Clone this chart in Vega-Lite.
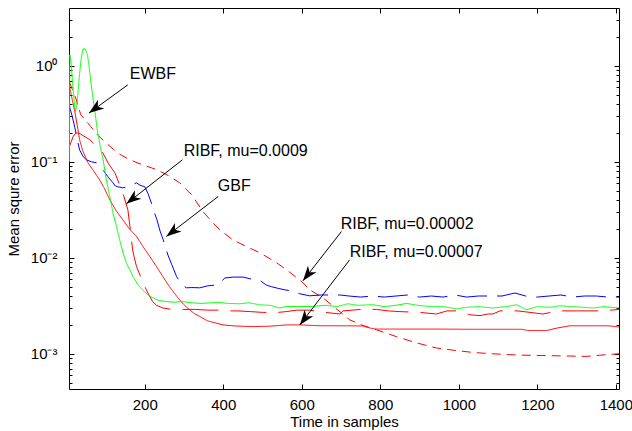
{
  "$schema": "https://vega.github.io/schema/vega-lite/v6.json",
  "width": 550,
  "height": 381,
  "autosize": {"type": "none"},
  "padding": {"left": 69, "top": 8, "right": 13, "bottom": 42},
  "background": "white",
  "config": {
    "view": {"stroke": "black", "strokeWidth": 1},
    "axis": {"domain": false, "grid": false, "labelFont": "Liberation Sans", "titleFont": "Liberation Sans", "labelColor": "black", "titleColor": "black", "tickColor": "black", "titleFontWeight": "normal", "labelFontSize": 15, "titleFontSize": 15, "tickWidth": 1}
  },
  "datasets": {
    "curves": [
      {"s":"RIBF, mu=0.00002","x":8,"y":0.68},{"s":"RIBF, mu=0.00002","x":16,"y":0.562},{"s":"RIBF, mu=0.00002","x":25,"y":0.45},{"s":"RIBF, mu=0.00002","x":37,"y":0.309},{"s":"RIBF, mu=0.00002","x":50,"y":0.27},{"s":"RIBF, mu=0.00002","x":62,"y":0.233},{"s":"RIBF, mu=0.00002","x":80,"y":0.19},{"s":"RIBF, mu=0.00002","x":101,"y":0.158},{"s":"RIBF, mu=0.00002","x":120,"y":0.135},{"s":"RIBF, mu=0.00002","x":139,"y":0.118},{"s":"RIBF, mu=0.00002","x":160,"y":0.106},{"s":"RIBF, mu=0.00002","x":181,"y":0.0977},{"s":"RIBF, mu=0.00002","x":205,"y":0.09},{"s":"RIBF, mu=0.00002","x":231,"y":0.0826},{"s":"RIBF, mu=0.00002","x":260,"y":0.072},{"s":"RIBF, mu=0.00002","x":289,"y":0.0604},{"s":"RIBF, mu=0.00002","x":320,"y":0.045},{"s":"RIBF, mu=0.00002","x":348,"y":0.0304},{"s":"RIBF, mu=0.00002","x":370,"y":0.024},{"s":"RIBF, mu=0.00002","x":391,"y":0.0196},{"s":"RIBF, mu=0.00002","x":424,"y":0.0154},{"s":"RIBF, mu=0.00002","x":459,"y":0.0131},{"s":"RIBF, mu=0.00002","x":493,"y":0.0113},{"s":"RIBF, mu=0.00002","x":536,"y":0.00887},{"s":"RIBF, mu=0.00002","x":565,"y":0.0073},{"s":"RIBF, mu=0.00002","x":587,"y":0.0062},{"s":"RIBF, mu=0.00002","x":603,"y":0.0055},{"s":"RIBF, mu=0.00002","x":620,"y":0.00464},{"s":"RIBF, mu=0.00002","x":654,"y":0.00383},{"s":"RIBF, mu=0.00002","x":690,"y":0.0029},{"s":"RIBF, mu=0.00002","x":722,"y":0.00226},{"s":"RIBF, mu=0.00002","x":755,"y":0.00198},{"s":"RIBF, mu=0.00002","x":790,"y":0.00178},{"s":"RIBF, mu=0.00002","x":841,"y":0.00151},{"s":"RIBF, mu=0.00002","x":892,"y":0.0013},{"s":"RIBF, mu=0.00002","x":943,"y":0.00115},{"s":"RIBF, mu=0.00002","x":994,"y":0.00108},{"s":"RIBF, mu=0.00002","x":1040,"y":0.00103},{"s":"RIBF, mu=0.00002","x":1087,"y":0.001},{"s":"RIBF, mu=0.00002","x":1150,"y":0.00097},{"s":"RIBF, mu=0.00002","x":1214,"y":0.00096},{"s":"RIBF, mu=0.00002","x":1270,"y":0.00095},{"s":"RIBF, mu=0.00002","x":1325,"y":0.00094},{"s":"RIBF, mu=0.00002","x":1376,"y":0.00098},{"s":"RIBF, mu=0.00002","x":1408,"y":0.001},

      {"s":"RIBF, mu=0.0009","x":8,"y":0.144},{"s":"RIBF, mu=0.0009","x":12,"y":0.16},{"s":"RIBF, mu=0.0009","x":18,"y":0.185},{"s":"RIBF, mu=0.0009","x":24,"y":0.198},{"s":"RIBF, mu=0.0009","x":29,"y":0.2},{"s":"RIBF, mu=0.0009","x":36,"y":0.195},{"s":"RIBF, mu=0.0009","x":45,"y":0.185},{"s":"RIBF, mu=0.0009","x":60,"y":0.17},{"s":"RIBF, mu=0.0009","x":75,"y":0.148},{"s":"RIBF, mu=0.0009","x":93,"y":0.124},{"s":"RIBF, mu=0.0009","x":108,"y":0.095},{"s":"RIBF, mu=0.0009","x":124,"y":0.0768},{"s":"RIBF, mu=0.0009","x":134,"y":0.06},{"s":"RIBF, mu=0.0009","x":144,"y":0.0475},{"s":"RIBF, mu=0.0009","x":157,"y":0.0316},{"s":"RIBF, mu=0.0009","x":163,"y":0.02},{"s":"RIBF, mu=0.0009","x":169,"y":0.0121},{"s":"RIBF, mu=0.0009","x":174,"y":0.0098},{"s":"RIBF, mu=0.0009","x":179,"y":0.0081},{"s":"RIBF, mu=0.0009","x":192,"y":0.006},{"s":"RIBF, mu=0.0009","x":204,"y":0.00464},{"s":"RIBF, mu=0.0009","x":212,"y":0.004},{"s":"RIBF, mu=0.0009","x":220,"y":0.0035},{"s":"RIBF, mu=0.0009","x":230,"y":0.0032},{"s":"RIBF, mu=0.0009","x":246,"y":0.003},{"s":"RIBF, mu=0.0009","x":270,"y":0.0029},{"s":"RIBF, mu=0.0009","x":300,"y":0.0029},{"s":"RIBF, mu=0.0009","x":330,"y":0.0029},{"s":"RIBF, mu=0.0009","x":360,"y":0.00285},{"s":"RIBF, mu=0.0009","x":395,"y":0.00285},{"s":"RIBF, mu=0.0009","x":420,"y":0.0028},{"s":"RIBF, mu=0.0009","x":437,"y":0.0028},{"s":"RIBF, mu=0.0009","x":470,"y":0.00275},{"s":"RIBF, mu=0.0009","x":500,"y":0.0027},{"s":"RIBF, mu=0.0009","x":539,"y":0.0027},{"s":"RIBF, mu=0.0009","x":560,"y":0.00275},{"s":"RIBF, mu=0.0009","x":587,"y":0.00285},{"s":"RIBF, mu=0.0009","x":620,"y":0.00285},{"s":"RIBF, mu=0.0009","x":660,"y":0.0027},{"s":"RIBF, mu=0.0009","x":697,"y":0.0026},{"s":"RIBF, mu=0.0009","x":705,"y":0.0028},{"s":"RIBF, mu=0.0009","x":750,"y":0.0029},{"s":"RIBF, mu=0.0009","x":790,"y":0.0029},{"s":"RIBF, mu=0.0009","x":820,"y":0.0028},{"s":"RIBF, mu=0.0009","x":850,"y":0.00275},{"s":"RIBF, mu=0.0009","x":900,"y":0.0027},{"s":"RIBF, mu=0.0009","x":943,"y":0.0026},{"s":"RIBF, mu=0.0009","x":970,"y":0.0028},{"s":"RIBF, mu=0.0009","x":994,"y":0.0028},{"s":"RIBF, mu=0.0009","x":1010,"y":0.0027},{"s":"RIBF, mu=0.0009","x":1028,"y":0.00255},{"s":"RIBF, mu=0.0009","x":1054,"y":0.0025},{"s":"RIBF, mu=0.0009","x":1075,"y":0.0026},{"s":"RIBF, mu=0.0009","x":1087,"y":0.0026},{"s":"RIBF, mu=0.0009","x":1105,"y":0.0028},{"s":"RIBF, mu=0.0009","x":1150,"y":0.0028},{"s":"RIBF, mu=0.0009","x":1214,"y":0.0026},{"s":"RIBF, mu=0.0009","x":1235,"y":0.0027},{"s":"RIBF, mu=0.0009","x":1257,"y":0.0028},{"s":"RIBF, mu=0.0009","x":1300,"y":0.0028},{"s":"RIBF, mu=0.0009","x":1367,"y":0.0028},{"s":"RIBF, mu=0.0009","x":1408,"y":0.0029},

      {"s":"RIBF, mu=0.00007","x":8,"y":0.62},{"s":"RIBF, mu=0.00007","x":15,"y":0.45},{"s":"RIBF, mu=0.00007","x":22,"y":0.33},{"s":"RIBF, mu=0.00007","x":28,"y":0.24},{"s":"RIBF, mu=0.00007","x":34,"y":0.17},{"s":"RIBF, mu=0.00007","x":42,"y":0.13},{"s":"RIBF, mu=0.00007","x":55,"y":0.098},{"s":"RIBF, mu=0.00007","x":70,"y":0.08},{"s":"RIBF, mu=0.00007","x":85,"y":0.065},{"s":"RIBF, mu=0.00007","x":98,"y":0.052},{"s":"RIBF, mu=0.00007","x":111,"y":0.0402},{"s":"RIBF, mu=0.00007","x":127,"y":0.031},{"s":"RIBF, mu=0.00007","x":144,"y":0.0249},{"s":"RIBF, mu=0.00007","x":160,"y":0.0202},{"s":"RIBF, mu=0.00007","x":179,"y":0.0167},{"s":"RIBF, mu=0.00007","x":196,"y":0.013},{"s":"RIBF, mu=0.00007","x":213,"y":0.0103},{"s":"RIBF, mu=0.00007","x":230,"y":0.0081},{"s":"RIBF, mu=0.00007","x":246,"y":0.00638},{"s":"RIBF, mu=0.00007","x":263,"y":0.005},{"s":"RIBF, mu=0.00007","x":281,"y":0.0040},{"s":"RIBF, mu=0.00007","x":298,"y":0.0033},{"s":"RIBF, mu=0.00007","x":315,"y":0.00285},{"s":"RIBF, mu=0.00007","x":328,"y":0.0026},{"s":"RIBF, mu=0.00007","x":340,"y":0.00245},{"s":"RIBF, mu=0.00007","x":360,"y":0.0022},{"s":"RIBF, mu=0.00007","x":380,"y":0.0021},{"s":"RIBF, mu=0.00007","x":399,"y":0.002},{"s":"RIBF, mu=0.00007","x":430,"y":0.00195},{"s":"RIBF, mu=0.00007","x":475,"y":0.00192},{"s":"RIBF, mu=0.00007","x":520,"y":0.00194},{"s":"RIBF, mu=0.00007","x":560,"y":0.002},{"s":"RIBF, mu=0.00007","x":595,"y":0.002},{"s":"RIBF, mu=0.00007","x":646,"y":0.00196},{"s":"RIBF, mu=0.00007","x":700,"y":0.00196},{"s":"RIBF, mu=0.00007","x":755,"y":0.00195},{"s":"RIBF, mu=0.00007","x":775,"y":0.00185},{"s":"RIBF, mu=0.00007","x":790,"y":0.00181},{"s":"RIBF, mu=0.00007","x":850,"y":0.00181},{"s":"RIBF, mu=0.00007","x":950,"y":0.00181},{"s":"RIBF, mu=0.00007","x":1028,"y":0.0018},{"s":"RIBF, mu=0.00007","x":1100,"y":0.0018},{"s":"RIBF, mu=0.00007","x":1163,"y":0.0018},{"s":"RIBF, mu=0.00007","x":1175,"y":0.00175},{"s":"RIBF, mu=0.00007","x":1224,"y":0.00175},{"s":"RIBF, mu=0.00007","x":1249,"y":0.00185},{"s":"RIBF, mu=0.00007","x":1283,"y":0.00196},{"s":"RIBF, mu=0.00007","x":1340,"y":0.00196},{"s":"RIBF, mu=0.00007","x":1380,"y":0.00196},{"s":"RIBF, mu=0.00007","x":1408,"y":0.0019},

      {"s":"GBF","x":8,"y":0.4},{"s":"GBF","x":9,"y":0.365},{"s":"GBF","x":15,"y":0.3},{"s":"GBF","x":22,"y":0.226},{"s":"GBF","x":28,"y":0.17},{"s":"GBF","x":34,"y":0.133},{"s":"GBF","x":42,"y":0.115},{"s":"GBF","x":51,"y":0.105},{"s":"GBF","x":64,"y":0.1},{"s":"GBF","x":77,"y":0.0977},{"s":"GBF","x":85,"y":0.09},{"s":"GBF","x":93,"y":0.0826},{"s":"GBF","x":106,"y":0.07},{"s":"GBF","x":119,"y":0.0604},{"s":"GBF","x":125,"y":0.056},{"s":"GBF","x":131,"y":0.055},{"s":"GBF","x":144,"y":0.0536},{"s":"GBF","x":153,"y":0.0545},{"s":"GBF","x":162,"y":0.0553},{"s":"GBF","x":170,"y":0.058},{"s":"GBF","x":179,"y":0.0604},{"s":"GBF","x":188,"y":0.057},{"s":"GBF","x":200,"y":0.055},{"s":"GBF","x":208,"y":0.047},{"s":"GBF","x":217,"y":0.0371},{"s":"GBF","x":224,"y":0.03},{"s":"GBF","x":231,"y":0.0249},{"s":"GBF","x":239,"y":0.019},{"s":"GBF","x":247,"y":0.0154},{"s":"GBF","x":253,"y":0.0128},{"s":"GBF","x":259,"y":0.0107},{"s":"GBF","x":269,"y":0.00845},{"s":"GBF","x":281,"y":0.00638},{"s":"GBF","x":294,"y":0.00524},{"s":"GBF","x":306,"y":0.00487},{"s":"GBF","x":320,"y":0.0049},{"s":"GBF","x":340,"y":0.00487},{"s":"GBF","x":360,"y":0.0051},{"s":"GBF","x":386,"y":0.00524},{"s":"GBF","x":404,"y":0.00616},{"s":"GBF","x":425,"y":0.0063},{"s":"GBF","x":450,"y":0.0063},{"s":"GBF","x":472,"y":0.006},{"s":"GBF","x":493,"y":0.0058},{"s":"GBF","x":510,"y":0.0052},{"s":"GBF","x":523,"y":0.005},{"s":"GBF","x":540,"y":0.0048},{"s":"GBF","x":557,"y":0.00464},{"s":"GBF","x":575,"y":0.0045},{"s":"GBF","x":595,"y":0.00422},{"s":"GBF","x":620,"y":0.00402},{"s":"GBF","x":650,"y":0.0041},{"s":"GBF","x":697,"y":0.0041},{"s":"GBF","x":720,"y":0.004},{"s":"GBF","x":750,"y":0.0039},{"s":"GBF","x":780,"y":0.004},{"s":"GBF","x":810,"y":0.0039},{"s":"GBF","x":840,"y":0.004},{"s":"GBF","x":870,"y":0.0041},{"s":"GBF","x":900,"y":0.0039},{"s":"GBF","x":930,"y":0.004},{"s":"GBF","x":960,"y":0.0039},{"s":"GBF","x":990,"y":0.0041},{"s":"GBF","x":1020,"y":0.0039},{"s":"GBF","x":1050,"y":0.004},{"s":"GBF","x":1080,"y":0.004},{"s":"GBF","x":1110,"y":0.004},{"s":"GBF","x":1143,"y":0.0043},{"s":"GBF","x":1170,"y":0.004},{"s":"GBF","x":1200,"y":0.0039},{"s":"GBF","x":1230,"y":0.004},{"s":"GBF","x":1260,"y":0.0041},{"s":"GBF","x":1290,"y":0.0039},{"s":"GBF","x":1320,"y":0.004},{"s":"GBF","x":1350,"y":0.004},{"s":"GBF","x":1380,"y":0.0039},{"s":"GBF","x":1408,"y":0.0039},

      {"s":"EWBF","x":8,"y":0.1},{"s":"EWBF","x":9,"y":1.3},{"s":"EWBF","x":12,"y":1.1},{"s":"EWBF","x":17,"y":0.6},{"s":"EWBF","x":21,"y":0.4},{"s":"EWBF","x":24,"y":0.334},{"s":"EWBF","x":28,"y":0.42},{"s":"EWBF","x":33,"y":0.75},{"s":"EWBF","x":38,"y":1.2},{"s":"EWBF","x":43,"y":1.5},{"s":"EWBF","x":48,"y":1.5},{"s":"EWBF","x":54,"y":1.3},{"s":"EWBF","x":58,"y":1.0},{"s":"EWBF","x":62,"y":0.715},{"s":"EWBF","x":67,"y":0.5},{"s":"EWBF","x":71,"y":0.377},{"s":"EWBF","x":75,"y":0.29},{"s":"EWBF","x":79,"y":0.215},{"s":"EWBF","x":84,"y":0.165},{"s":"EWBF","x":88,"y":0.133},{"s":"EWBF","x":94,"y":0.105},{"s":"EWBF","x":102,"y":0.065},{"s":"EWBF","x":111,"y":0.0436},{"s":"EWBF","x":119,"y":0.0292},{"s":"EWBF","x":128,"y":0.0212},{"s":"EWBF","x":136,"y":0.0154},{"s":"EWBF","x":145,"y":0.0112},{"s":"EWBF","x":153,"y":0.0088},{"s":"EWBF","x":162,"y":0.0075},{"s":"EWBF","x":170,"y":0.00638},{"s":"EWBF","x":178,"y":0.0056},{"s":"EWBF","x":187,"y":0.005},{"s":"EWBF","x":195,"y":0.0046},{"s":"EWBF","x":204,"y":0.00427},{"s":"EWBF","x":212,"y":0.004},{"s":"EWBF","x":221,"y":0.00383},{"s":"EWBF","x":235,"y":0.0036},{"s":"EWBF","x":255,"y":0.0035},{"s":"EWBF","x":275,"y":0.00345},{"s":"EWBF","x":295,"y":0.0035},{"s":"EWBF","x":322,"y":0.00339},{"s":"EWBF","x":345,"y":0.00335},{"s":"EWBF","x":370,"y":0.0034},{"s":"EWBF","x":391,"y":0.00343},{"s":"EWBF","x":410,"y":0.00335},{"s":"EWBF","x":442,"y":0.00332},{"s":"EWBF","x":465,"y":0.0034},{"s":"EWBF","x":493,"y":0.00324},{"s":"EWBF","x":520,"y":0.0032},{"s":"EWBF","x":544,"y":0.003},{"s":"EWBF","x":561,"y":0.00312},{"s":"EWBF","x":590,"y":0.0031},{"s":"EWBF","x":628,"y":0.00312},{"s":"EWBF","x":660,"y":0.0032},{"s":"EWBF","x":690,"y":0.0031},{"s":"EWBF","x":717,"y":0.00332},{"s":"EWBF","x":745,"y":0.0032},{"s":"EWBF","x":780,"y":0.00325},{"s":"EWBF","x":810,"y":0.0031},{"s":"EWBF","x":840,"y":0.0032},{"s":"EWBF","x":867,"y":0.00335},{"s":"EWBF","x":895,"y":0.0032},{"s":"EWBF","x":930,"y":0.0031},{"s":"EWBF","x":960,"y":0.0031},{"s":"EWBF","x":994,"y":0.00294},{"s":"EWBF","x":1020,"y":0.00305},{"s":"EWBF","x":1050,"y":0.0031},{"s":"EWBF","x":1087,"y":0.003},{"s":"EWBF","x":1120,"y":0.0031},{"s":"EWBF","x":1147,"y":0.00324},{"s":"EWBF","x":1173,"y":0.00288},{"s":"EWBF","x":1200,"y":0.0031},{"s":"EWBF","x":1230,"y":0.00305},{"s":"EWBF","x":1257,"y":0.00316},{"s":"EWBF","x":1290,"y":0.0031},{"s":"EWBF","x":1320,"y":0.00305},{"s":"EWBF","x":1341,"y":0.003},{"s":"EWBF","x":1370,"y":0.0031},{"s":"EWBF","x":1408,"y":0.003}
    ],
    "notes": [
      {"label":"EWBF","tx":162,"ty":0.825,"x1":157,"y1":0.634,"x2":58,"y2":0.322},
      {"label":"RIBF, mu=0.0009","tx":299,"ty":0.130,"x1":296,"y1":0.105,"x2":153,"y2":0.0365},
      {"label":"GBF","tx":386,"ty":0.0562,"x1":387,"y1":0.0435,"x2":255,"y2":0.0167},
      {"label":"RIBF, mu=0.00002","tx":699,"ty":0.0226,"x1":701,"y1":0.0188,"x2":603,"y2":0.00576},
      {"label":"RIBF, mu=0.00007","tx":722,"ty":0.0114,"x1":722,"y1":0.00954,"x2":595,"y2":0.002}
    ]
  },
  "resolve": {"axis": {"x": "independent", "y": "independent"}},
  "layer": [
    {
      "data": {"name": "curves"},
      "mark": {"type": "line", "clip": true, "strokeWidth": 1},
      "encoding": {
        "x": {"field": "x", "type": "quantitative", "scale": {"domain": [7, 1408], "nice": false, "zero": false},
          "axis": {"orient": "bottom", "values": [200,400,600,800,1000,1200,1400], "format": "d", "title": "Time in samples", "tickSize": -5, "labelPadding": 13, "titlePadding": 2, "labelFlush": false}},
        "y": {"field": "y", "type": "quantitative", "scale": {"type": "log", "domain": [0.00043, 4.0], "nice": false},
          "axis": {"orient": "left", "title": "Mean squre error", "titlePadding": 9, "labelPadding": 17,
            "values": [0.0005,0.0006,0.0007,0.0008,0.0009,0.001,0.002,0.003,0.004,0.005,0.006,0.007,0.008,0.009,0.01,0.02,0.03,0.04,0.05,0.06,0.07,0.08,0.09,0.1,0.2,0.3,0.4,0.5,0.6,0.7,0.8,0.9,1,2,3],
            "labelExpr": "datum.value === 1 ? '10⁰' : datum.value === 0.1 ? '10⁻¹' : datum.value === 0.01 ? '10⁻²' : datum.value === 0.001 ? '10⁻³' : ''",
            "tickSize": {"expr": "datum.value === 1 || datum.value === 0.1 || datum.value === 0.01 || datum.value === 0.001 ? -5 : -3"}}},
        "color": {"field": "s", "type": "nominal", "legend": null,
          "scale": {"domain": ["RIBF, mu=0.00002","RIBF, mu=0.0009","RIBF, mu=0.00007","GBF","EWBF"], "range": ["#ff0000","#ff0000","#ff0000","#0000ff","#00ff00"]}},
        "strokeDash": {"field": "s", "type": "nominal", "legend": null,
          "scale": {"domain": ["RIBF, mu=0.00002","RIBF, mu=0.0009","RIBF, mu=0.00007","GBF","EWBF"], "range": [[9,6],[36,12],[1,0],[30,10],[1,0]]}}
      }
    },
    {
      "data": {"name": "notes"},
      "mark": {"type": "rule", "color": "black", "strokeWidth": 1},
      "encoding": {
        "x": {"field": "x1", "type": "quantitative", "scale": {"domain": [7, 1408], "nice": false, "zero": false},
          "axis": {"orient": "top", "values": [200,400,600,800,1000,1200,1400], "labels": false, "title": null, "tickSize": -5}},
        "y": {"field": "y1", "type": "quantitative", "scale": {"type": "log", "domain": [0.00043, 4.0], "nice": false},
          "axis": {"orient": "right", "labels": false, "title": null,
            "values": [0.0005,0.0006,0.0007,0.0008,0.0009,0.001,0.002,0.003,0.004,0.005,0.006,0.007,0.008,0.009,0.01,0.02,0.03,0.04,0.05,0.06,0.07,0.08,0.09,0.1,0.2,0.3,0.4,0.5,0.6,0.7,0.8,0.9,1,2,3],
            "tickSize": {"expr": "datum.value === 1 || datum.value === 0.1 || datum.value === 0.01 || datum.value === 0.001 ? -5 : -3"}}},
        "x2": {"field": "x2"},
        "y2": {"field": "y2"}
      }
    },
    {
      "data": {"name": "notes"},
      "mark": {"type": "point", "shape": "M0,0 L0.36,1 L0,0.72 L-0.36,1 Z", "filled": true, "color": "black", "opacity": 1, "strokeWidth": 0, "size": 900,
        "angle": {"expr": "atan2(scale('y', datum.y2) - scale('y', datum.y1), scale('x', datum.x2) - scale('x', datum.x1)) * 180 / PI + 90"}},
      "encoding": {
        "x": {"field": "x2", "type": "quantitative", "scale": {"domain": [7, 1408], "nice": false, "zero": false}, "axis": null},
        "y": {"field": "y2", "type": "quantitative", "scale": {"type": "log", "domain": [0.00043, 4.0], "nice": false}, "axis": null}
      }
    },
    {
      "data": {"name": "notes"},
      "mark": {"type": "text", "align": "left", "baseline": "middle", "font": "Liberation Sans", "fontSize": 16, "color": "black"},
      "encoding": {
        "x": {"field": "tx", "type": "quantitative", "scale": {"domain": [7, 1408], "nice": false, "zero": false}, "axis": null},
        "y": {"field": "ty", "type": "quantitative", "scale": {"type": "log", "domain": [0.00043, 4.0], "nice": false}, "axis": null},
        "text": {"field": "label"}
      }
    }
  ]
}
